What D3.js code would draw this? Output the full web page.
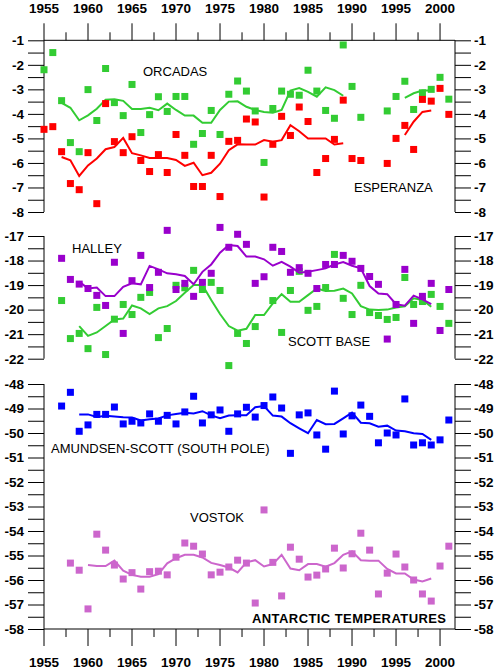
<!DOCTYPE html>
<html><head><meta charset="utf-8">
<script src="https://cdn.jsdelivr.net/npm/d3@7"></script>
<style>body{margin:0;background:#fff}svg{display:block}</style>
</head><body>
<script>
const years = d3.range(1955, 2002);
// data: null = missing
const orcadas = [-2.2,-1.5,-3.46,-5.17,-5.54,-3.01,-4.27,-2.15,-3.54,-4.07,-2.8,-4.76,-4.03,-3.3,-3.9,-3.29,-3.29,-5.24,-4.8,-3.86,-4.84,-3.2,-2.66,-3.07,-3.88,-5.98,-3.78,-3.07,-3.2,-3.24,-2.22,-3.07,-3.86,-4.18,-1.19,-2.88,-4.14,null,null,-3.88,-3.29,-2.67,-3.82,-3.14,-3.0,-2.51,-3.4];
const esperanza = [-4.63,-4.52,-5.54,-6.84,-7.09,-5.58,-7.66,-3.58,-5.13,-5.58,-4.93,-5.9,-6.35,-5.66,-6.39,-4.84,-5.69,-6.96,-6.96,-5.69,-7.37,-5.12,-5.08,-4.21,-4.33,-7.39,-5.24,-4.1,-4.88,-3.72,-4.31,-6.39,-5.82,-5.04,-3.44,-5.82,-5.9,null,null,-6.02,-5.0,-4.47,-5.45,-3.41,-3.48,-2.96,-4.02];
const halley = [null,null,-17.91,-18.77,-18.96,-19.14,-19.42,-19.83,-18.07,-20.97,-18.82,-17.79,-19.1,-18.48,-16.77,-19.18,-18.93,-19.46,-18.89,-18.52,-16.65,-17.46,-16.93,-17.34,-18.93,-18.66,-17.46,-17.63,-18.48,-18.29,-18.52,-19.14,-18.16,-18.16,-17.79,-18.03,-18.32,-18.65,-18.97,-21.2,-19.79,-18.36,-20.56,-19.46,-18.93,-20.85,-19.18];
const scottBase = [null,null,-19.63,-21.18,-20.97,-21.59,-19.91,-21.83,-20.39,-19.79,-20.2,-19.5,-19.3,-21.14,-20.77,-19.01,-19.11,-18.4,-19.18,-18.89,-19.22,-22.28,-20.97,-21.38,-20.69,null,-19.63,-20.93,-19.22,-18.44,-20.03,-19.87,-19.1,-17.75,-19.54,-20.2,-19.01,-20.12,-20.24,-20.4,-20.32,-18.69,-19.79,-19.67,-19.38,-19.87,-20.56];
const southPole = [null,null,-48.9,-48.34,-49.93,-49.67,-49.24,-49.24,-48.94,-49.63,-49.52,-49.59,-49.22,-49.52,-49.28,-49.63,-49.14,-48.5,-49.59,-49.26,-49.06,-49.93,-49.22,-48.95,-49.35,-48.88,-48.53,-48.98,-50.83,-49.26,-49.18,-50.08,-50.66,-48.29,-50.04,-49.3,-48.86,-49.32,-50.4,-50.0,-50.08,-48.61,-50.49,-50.4,-50.49,-50.28,-49.47];
const vostok = [null,null,null,-55.31,-55.6,-57.18,-54.13,-54.78,-55.39,-55.96,-55.7,-56.37,-55.66,-55.64,-55.79,-55.07,-54.49,-54.62,-54.94,-55.79,-55.68,-55.47,-55.19,-55.31,-56.94,-53.14,-55.28,-56.65,-54.66,-55.15,-55.88,-55.8,-55.55,-54.7,-55.51,-54.93,-54.09,-54.78,-56.57,-55.72,-54.94,-55.47,-56.0,-56.57,-56.86,-55.43,-54.62];
// smoothed curves, same year index
const orcadasSmooth = [null,null,-3.55,-3.75,-4.26,-4.06,-3.79,-3.42,-3.4,-3.47,-3.8,-3.8,-3.75,-3.85,-3.58,-3.84,-4.07,-4.07,-4.36,-4.36,-3.84,-3.5,-3.49,-3.71,-3.84,-3.92,-3.95,-3.84,-3.05,-2.95,-3.1,-3.3,-2.92,-3.03,-3.26,null,null,null,null,null,null,-3.35,-3.16,-3.05,-3.05,null,null];
const esperanzaSmooth = [null,null,-5.76,-5.89,-6.53,-6.1,-5.82,-5.44,-5.35,-4.98,-5.6,-5.69,-5.8,-5.8,-5.8,-5.88,-6.12,-5.99,-6.5,-6.4,-6.03,-5.48,-5.24,-5.25,-5.25,-5.07,-5.14,-5.07,-4.46,-4.71,-5.0,-5.0,-5.0,-5.25,-5.2,null,null,null,null,null,null,-4.86,-4.32,-3.92,-3.86,null,null];
const halleySmooth = [null,null,null,null,-18.86,-19.14,-19.1,-19.45,-19.45,-19.07,-18.93,-18.97,-18.22,-18.36,-18.52,-18.56,-18.63,-18.97,-18.46,-18.16,-17.68,-17.37,-17.41,-17.84,-17.84,-17.95,-18.21,-18.05,-18.25,-18.5,-18.46,-18.39,-18.32,-18.16,-18.06,-18.21,-18.32,-19.04,-19.34,-19.37,-19.78,-19.84,-19.43,-19.58,-19.78,null,null];
const scottSmooth = [null,null,null,null,-20.67,-21.07,-20.93,-20.67,-20.4,-20.36,-19.83,-19.95,-20.18,-19.95,-19.86,-19.65,-19.31,-19.0,-19.0,-19.61,-20.18,-20.67,-20.86,-20.78,-20.22,-20.22,-19.75,-19.37,-19.68,-19.68,-19.41,-19.14,-19.24,-19.23,-19.14,-19.34,-19.86,-20.0,-20.02,-20.0,-19.91,-19.86,-19.54,-19.61,-19.88,null,null];
const southPoleSmooth = [null,null,null,null,-49.24,-49.24,-49.35,-49.3,-49.33,-49.36,-49.37,-49.49,-49.44,-49.41,-49.28,-49.22,-49.17,-49.2,-49.11,-49.28,-49.4,-49.29,-49.28,-49.28,-48.95,-48.9,-49.29,-49.33,-49.6,-49.81,-50.01,-49.47,-49.64,-49.63,-49.4,-49.17,-49.58,-49.6,-49.74,-49.7,-49.9,-49.93,-50.01,-50.04,-50.28,null,null];
const vostokSmooth = [null,null,null,null,null,-55.39,-55.43,-55.43,-55.21,-55.62,-55.79,-55.87,-55.87,-55.76,-55.32,-55.11,-54.97,-54.97,-55.08,-55.3,-55.39,-55.49,-55.69,-55.28,-55.19,-55.45,-55.35,-54.97,-55.53,-55.6,-55.35,-55.35,-55.46,-55.31,-54.97,-54.83,-55.19,-55.21,-55.21,-55.55,-55.73,-55.73,-55.98,-56.06,-55.94,null,null];
const xTickLabels = [1955,1960,1965,1970,1975,1980,1985,1990,1995,2000];
const panel1Ticks = [-1,-2,-3,-4,-5,-6,-7,-8];
const panel2Ticks = [-17,-18,-19,-20,-21,-22];
const panel3Ticks = [-48,-49,-50,-51,-52,-53,-54,-55,-56,-57,-58];

const W=499,H=670;
const svg=d3.select("body").append("svg").attr("width",W).attr("height",H);
const x=d3.scaleLinear().domain([1955,2001.7]).range([44,455]);
const panels=[
 {dom:[-1,-8],rng:[40.3,212],ticks:panel1Ticks},
 {dom:[-17,-22],rng:[236,358.7],ticks:panel2Ticks},
 {dom:[-48,-58],rng:[384,629],ticks:panel3Ticks}
];
const FS=13.5;
panels.forEach(p=>{
  p.y=d3.scaleLinear().domain(p.dom).range(p.rng);
  const half=d3.range(p.dom[0],p.dom[1]-0.01,-0.5);
  const la=svg.append("g").attr("transform","translate(44,0)")
    .call(d3.axisLeft(p.y).tickValues(half).tickSize(16).tickPadding(4).tickFormat(d=>Number.isInteger(d)?d:""));
  const ra=svg.append("g").attr("transform","translate(455,0)")
    .call(d3.axisRight(p.y).tickValues(half).tickSize(16).tickPadding(3).tickFormat(d=>Number.isInteger(d)?d:""));
  [la,ra].forEach(a=>{a.select(".domain").remove();
    a.selectAll("line").attr("stroke","#000");
    a.selectAll("text").attr("font-family","Liberation Sans, Arial").attr("font-weight","bold").attr("font-size",FS).attr("fill","#000");});
  svg.append("line").attr("x1",44).attr("x2",44).attr("y1",p.rng[0]).attr("y2",p.rng[1]).attr("stroke","#000");
  svg.append("line").attr("x1",455).attr("x2",455).attr("y1",p.rng[0]).attr("y2",p.rng[1]).attr("stroke","#000");
});
const xt=d3.range(1955,2001,2.5);
[[40.3,-1],[629,1]].forEach(([yy,dir])=>{
  svg.append("line").attr("x1",44).attr("x2",455).attr("y1",yy).attr("y2",yy).attr("stroke","#000");
  svg.append("g").selectAll("line").data(xt).join("line")
    .attr("x1",d=>x(d)).attr("x2",d=>x(d)).attr("y1",yy)
    .attr("y2",d=>yy+dir*(d%5===0?17:8)).attr("stroke","#000");
  svg.append("g").selectAll("text").data(xTickLabels).join("text")
    .attr("x",d=>x(d)).attr("y",dir<0?13:667).attr("text-anchor","middle")
    .attr("font-family","Liberation Sans, Arial").attr("font-weight","bold").attr("font-size",FS).text(d=>d);
});
function series(vals,smooth,p,color){
  const pts=years.map((yr,i)=>({yr,v:vals[i]})).filter(d=>d.v!=null);
  const line=d3.line().defined(d=>d.v!=null).x(d=>x(d.yr)).y(d=>p.y(d.v));
  svg.append("path").datum(years.map((yr,i)=>({yr,v:smooth[i]})))
    .attr("d",line).attr("fill","none").attr("stroke",color).attr("stroke-width",2);
  svg.append("g").selectAll("rect").data(pts).join("rect")
    .attr("x",d=>x(d.yr)-3.5).attr("y",d=>p.y(d.v)-3.5).attr("width",7).attr("height",7).attr("fill",color);
}
series(orcadas,orcadasSmooth,panels[0],"#33cc33");
series(esperanza,esperanzaSmooth,panels[0],"#ff0000");
series(scottBase,scottSmooth,panels[1],"#33cc33");
series(halley,halleySmooth,panels[1],"#9900cc");
series(southPole,southPoleSmooth,panels[2],"#0000ff");
series(vostok,vostokSmooth,panels[2],"#cc66cc");
const labels=[["ORCADAS",143,76],["ESPERANZA",354,192],["HALLEY",72,253],["SCOTT BASE",288,346],["AMUNDSEN-SCOTT (SOUTH POLE)",51,453],["VOSTOK",190,522]];
labels.forEach(([t,lx,ly])=>svg.append("text").attr("x",lx).attr("y",ly).attr("font-family","Liberation Sans, Arial").attr("font-size",13).text(t));
svg.append("text").attr("x",252).attr("y",623).attr("font-family","Liberation Sans, Arial").attr("font-weight","bold").attr("font-size",13).attr("textLength",194).text("ANTARCTIC TEMPERATURES");
</script>
</body></html>
